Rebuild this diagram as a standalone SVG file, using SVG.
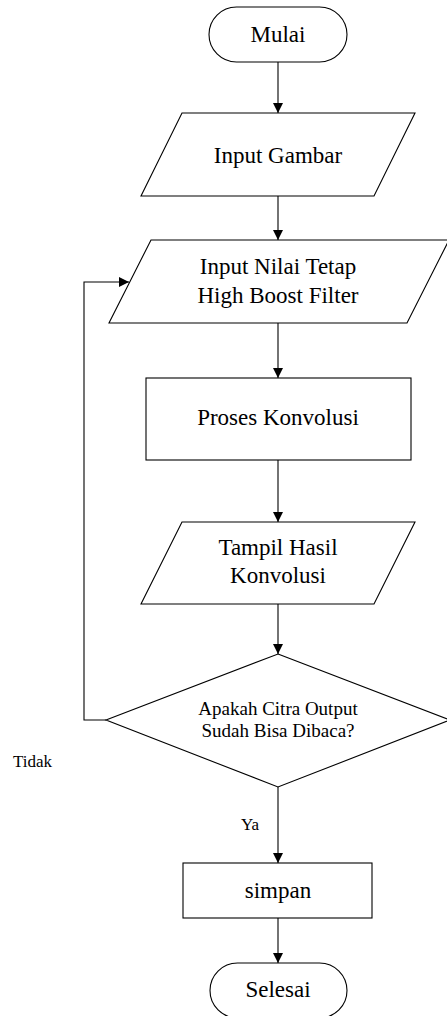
<svg xmlns="http://www.w3.org/2000/svg" width="447" height="1016" viewBox="0 0 447 1016">
<defs>
<marker id="arr" viewBox="0 0 10 10" refX="10" refY="5" markerWidth="10" markerHeight="10" markerUnits="userSpaceOnUse" orient="auto">
<path d="M0,0 L10,5 L0,10 z" fill="#000"/>
</marker>
<style>
.shape{fill:#fff;stroke:#000;stroke-width:1.1}
.conn{fill:none;stroke:#000;stroke-width:1.1}
.t{font-family:"Liberation Serif","Times New Roman",serif;font-size:23px;fill:#000;text-anchor:middle}
.td{font-family:"Liberation Serif","Times New Roman",serif;font-size:19px;fill:#000;text-anchor:middle}
.tl{font-family:"Liberation Serif","Times New Roman",serif;font-size:17px;fill:#000}
</style>
</defs>
<rect width="447" height="1016" fill="#fff"/>
<g id="connectors">
<line class="conn" x1="278" y1="62" x2="278" y2="113" marker-end="url(#arr)"/>
<line class="conn" x1="278" y1="196" x2="278" y2="240" marker-end="url(#arr)"/>
<line class="conn" x1="278" y1="323" x2="278" y2="378" marker-end="url(#arr)"/>
<line class="conn" x1="278" y1="460" x2="278" y2="522" marker-end="url(#arr)"/>
<line class="conn" x1="278" y1="604" x2="278" y2="654" marker-end="url(#arr)"/>
<line class="conn" x1="278" y1="787" x2="278" y2="863" marker-end="url(#arr)"/>
<line class="conn" x1="278" y1="918" x2="278" y2="963" marker-end="url(#arr)"/>
<polyline class="conn" points="106,720 84,720 84,282 129,282" marker-end="url(#arr)"/>
<text class="tl" x="13" y="767">Tidak</text>
<text class="tl" x="241" y="830">Ya</text>
</g>
<g id="mulai">
<rect class="shape" x="209" y="7" width="138" height="55" rx="27.5" ry="27.5"/>
<text class="t" x="278" y="42">Mulai</text>
</g>
<g id="input-gambar">
<polygon class="shape" points="182,113 415,113 374,196 141,196"/>
<text class="t" x="278" y="163">Input Gambar</text>
</g>
<g id="input-nilai">
<polygon class="shape" points="151,240 449,240 407,323 109,323"/>
<text class="t" x="278" y="274">Input Nilai Tetap</text>
<text class="t" x="278" y="303">High Boost Filter</text>
</g>
<g id="proses">
<rect class="shape" x="146" y="378" width="265" height="82"/>
<text class="t" x="278" y="425">Proses Konvolusi</text>
</g>
<g id="tampil">
<polygon class="shape" points="182,522 415,522 374,604 141,604"/>
<text class="t" x="278" y="555">Tampil Hasil</text>
<text class="t" x="278" y="583">Konvolusi</text>
</g>
<g id="keputusan">
<polygon class="shape" points="278,654 450,720 278,787 106,720"/>
<text class="td" x="278" y="715">Apakah Citra Output</text>
<text class="td" x="278" y="737">Sudah Bisa Dibaca?</text>
</g>
<g id="simpan">
<rect class="shape" x="183" y="863" width="189" height="55"/>
<text class="t" x="278" y="898">simpan</text>
</g>
<g id="selesai">
<rect class="shape" x="210" y="963" width="137" height="55" rx="27.5" ry="27.5"/>
<text class="t" x="278" y="997">Selesai</text>
</g>
</svg>
